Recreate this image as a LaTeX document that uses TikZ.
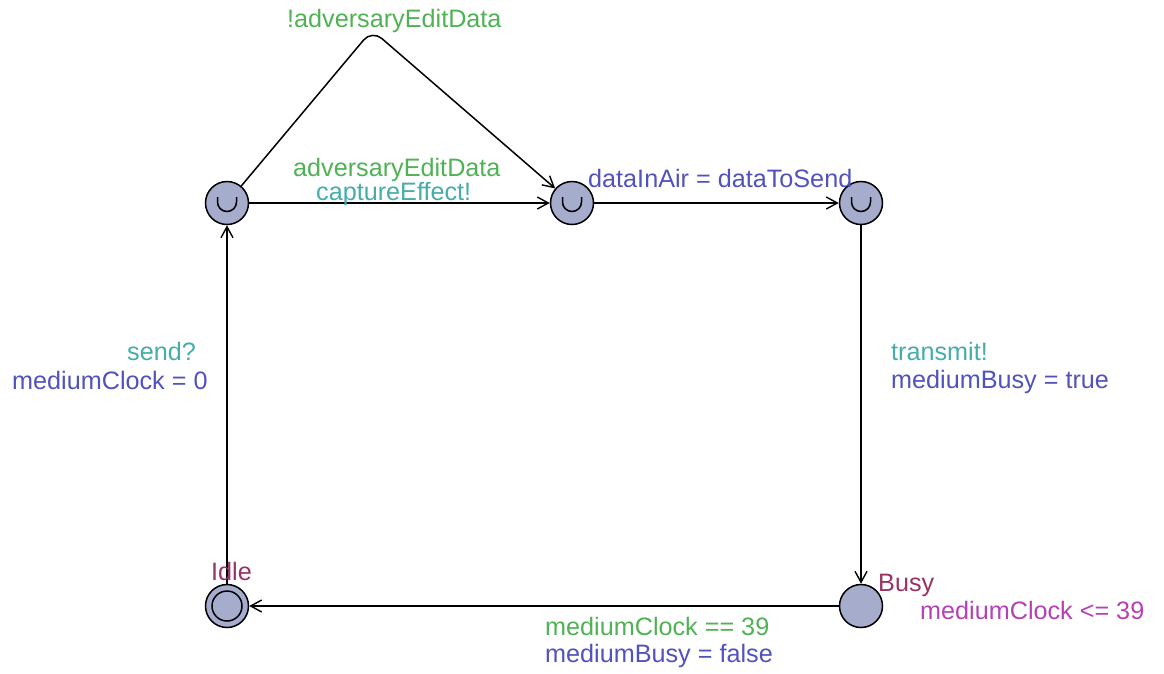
\documentclass[tikz,border=0pt]{standalone}
\usepackage{fontspec}
\setmainfont{Liberation Sans}
\usetikzlibrary{arrows.meta}
\definecolor{guardc}{RGB}{80,178,84}
\definecolor{syncc}{RGB}{70,172,172}
\definecolor{assignc}{RGB}{82,82,190}
\definecolor{namec}{RGB}{150,52,102}
\definecolor{invc}{RGB}{182,64,182}
\definecolor{locfill}{RGB}{166,172,204}
\begin{document}
\begin{tikzpicture}[x=1pt,y=-1pt,
  loc/.style={circle,draw=black,line width=1.5pt,fill=locfill,minimum size=43pt,inner sep=0pt},
  committed/.style={loc,path picture={
      \draw[line width=1.5pt] ([shift={(-9.5pt,6pt)}]path picture bounding box.center)
        -- ++(0,-5pt) arc[start angle=180,end angle=360,radius=9.5pt] -- ++(0,5pt);}},
  edge/.style={draw=black,line width=1.5pt,-{Straight Barb[length=11pt,width=12pt,line width=1.4pt]}},
  lbl/.style={anchor=base west,inner sep=0pt,font=\fontsize{25.2}{29}\selectfont},
  guard/.style={lbl,text=guardc},
  sync/.style={lbl,text=syncc},
  assign/.style={lbl,text=assignc},
  lname/.style={lbl,text=namec},
  inv/.style={lbl,text=invc}]
\path[use as bounding box,fill=white] (0,0) rectangle (1164,673);

% locations
\node[committed] (A) at (227,203) {};
\node[committed] (B) at (572,203) {};
\node[committed] (C) at (861,203) {};
\node[loc] (Busy) at (861,606) {};
\node[loc] (Idle) at (227,606) {};
\draw[line width=1.5pt] (Idle.center) circle[radius=15pt];
\coordinate (nail) at (372,30);

% transitions
\draw[edge] (Idle) -- (A);
\draw[edge] (A) -- (B);
\draw[edge,rounded corners=13pt] (A) -- (nail) -- (B);
\draw[edge] (B) -- (C);
\draw[edge] (C) -- (Busy);
\draw[edge] (Busy) -- (Idle);

% location names and invariants
\node[lname] (nIdle) at (211,580) {Idle};
\node[lname] (nBusy) at (878,591) {Busy};
\node[inv] (iBusy) at (920,619) {mediumClock <= 39};

% transition labels
\node[guard] (g1) at (287,27) {!adversaryEditData};
\node[guard] (g2) at (293,176) {adversaryEditData};
\node[sync] (s2) at (316,200) {captureEffect!};
\node[assign] (a3) at (588,187) {dataInAir = dataToSend};
\node[sync] (s4) at (891,360) {transmit!};
\node[assign] (a4) at (891,388) {mediumBusy = true};
\node[guard] (g5) at (545,635) {mediumClock == 39};
\node[assign] (a5) at (545,662) {mediumBusy = false};
\node[sync] (s6) at (127,360) {send?};
\node[assign] (a6) at (12,389) {mediumClock = 0};
\end{tikzpicture}
\end{document}
